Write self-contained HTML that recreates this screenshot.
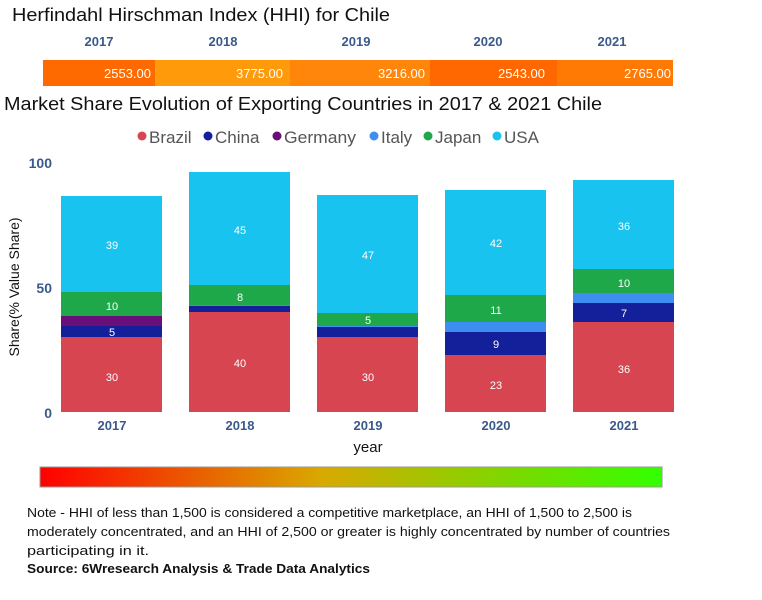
<!DOCTYPE html>
<html><head><meta charset="utf-8"><style>
html,body{margin:0;padding:0;background:#fff}
svg{display:block;font-family:"Liberation Sans",sans-serif}
</style></head><body>
<svg width="762" height="600" viewBox="0 0 762 600" xmlns="http://www.w3.org/2000/svg">
<defs>
<linearGradient id="g" x1="0" x2="1" y1="0" y2="0">
<stop offset="0" stop-color="#ff0000"/><stop offset="0.45" stop-color="#d9a800"/><stop offset="1" stop-color="#33ff00"/>
</linearGradient>
</defs>
<text x="12" y="21" font-size="18" fill="#111" textLength="378" lengthAdjust="spacingAndGlyphs">Herfindahl Hirschman Index (HHI) for Chile</text>
<g font-size="13" font-weight="bold" fill="#3a5a8c" text-anchor="middle">
<text x="99" y="46">2017</text><text x="223" y="46">2018</text><text x="356" y="46">2019</text><text x="488" y="46">2020</text><text x="612" y="46">2021</text>
</g>
<rect x="43" y="60" width="112" height="26" fill="#ff6a00"/>
<rect x="155" y="60" width="135" height="26" fill="#ff9a0a"/>
<rect x="290" y="60" width="140" height="26" fill="#ff860a"/>
<rect x="430" y="60" width="127" height="26" fill="#ff6800"/>
<rect x="557" y="60" width="116" height="26" fill="#ff7a05"/>
<g font-size="13" fill="#fff" text-anchor="end">
<text x="151" y="78">2553.00</text><text x="283" y="78">3775.00</text><text x="425" y="78">3216.00</text><text x="545" y="78">2543.00</text><text x="671" y="78">2765.00</text>
</g>
<text x="4" y="110" font-size="18" fill="#111" textLength="598" lengthAdjust="spacingAndGlyphs">Market Share Evolution of Exporting Countries in 2017 &amp; 2021 Chile</text>
<g font-size="17" fill="#555">
<circle cx="142" cy="136" r="4.5" fill="#d64550"/><text x="149" y="143">Brazil</text>
<circle cx="208" cy="136" r="4.5" fill="#13209a"/><text x="215" y="143">China</text>
<circle cx="277" cy="136" r="4.5" fill="#6a0f7a"/><text x="284" y="143" textLength="72" lengthAdjust="spacingAndGlyphs">Germany</text>
<circle cx="374" cy="136" r="4.5" fill="#3d8ef0"/><text x="381" y="143">Italy</text>
<circle cx="428" cy="136" r="4.5" fill="#1fa84a"/><text x="435" y="143">Japan</text>
<circle cx="497" cy="136" r="4.5" fill="#19c3f0"/><text x="504" y="143">USA</text>
</g>
<g font-size="14" font-weight="bold" fill="#3a5a8c" text-anchor="end">
<text x="52" y="168">100</text><text x="52" y="293">50</text><text x="52" y="418">0</text>
</g>
<text transform="translate(19,287) rotate(-90)" font-size="14" fill="#111" text-anchor="middle">Share(% Value Share)</text>
<rect x="61" y="196" width="101" height="96" fill="#19c3f0"/>
<rect x="61" y="292" width="101" height="24" fill="#1fa84a"/>
<rect x="61" y="316" width="101" height="10" fill="#6a0f7a"/>
<rect x="61" y="326" width="101" height="11" fill="#13209a"/>
<rect x="61" y="337" width="101" height="75" fill="#d64550"/>
<rect x="189" y="172" width="101" height="113" fill="#19c3f0"/>
<rect x="189" y="285" width="101" height="20" fill="#1fa84a"/>
<rect x="189" y="305" width="101" height="1" fill="#3d8ef0"/>
<rect x="189" y="306" width="101" height="6" fill="#13209a"/>
<rect x="189" y="312" width="101" height="100" fill="#d64550"/>
<rect x="317" y="195" width="101" height="118" fill="#19c3f0"/>
<rect x="317" y="313" width="101" height="13" fill="#1fa84a"/>
<rect x="317" y="326" width="101" height="1" fill="#3d8ef0"/>
<rect x="317" y="327" width="101" height="10" fill="#13209a"/>
<rect x="317" y="337" width="101" height="75" fill="#d64550"/>
<rect x="445" y="190" width="101" height="105" fill="#19c3f0"/>
<rect x="445" y="295" width="101" height="27" fill="#1fa84a"/>
<rect x="445" y="322" width="101" height="10" fill="#3d8ef0"/>
<rect x="445" y="332" width="101" height="23" fill="#13209a"/>
<rect x="445" y="355" width="101" height="57" fill="#d64550"/>
<rect x="573" y="180" width="101" height="89" fill="#19c3f0"/>
<rect x="573" y="269" width="101" height="24" fill="#1fa84a"/>
<rect x="573" y="293" width="101" height="10" fill="#3d8ef0"/>
<rect x="573" y="303" width="101" height="19" fill="#13209a"/>
<rect x="573" y="322" width="101" height="90" fill="#d64550"/>
<g font-size="11" fill="#fff" text-anchor="middle">
<text x="112" y="249">39</text><text x="112" y="310">10</text><text x="112" y="336">5</text><text x="112" y="381">30</text>
<text x="240" y="234">45</text><text x="240" y="301">8</text><text x="240" y="367">40</text>
<text x="368" y="259">47</text><text x="368" y="324">5</text><text x="368" y="381">30</text>
<text x="496" y="247">42</text><text x="496" y="314">11</text><text x="496" y="348">9</text><text x="496" y="389">23</text>
<text x="624" y="230">36</text><text x="624" y="287">10</text><text x="624" y="317">7</text><text x="624" y="373">36</text>
</g>
<g font-size="13" font-weight="bold" fill="#3a5a8c" text-anchor="middle">
<text x="112" y="430">2017</text><text x="240" y="430">2018</text><text x="368" y="430">2019</text><text x="496" y="430">2020</text><text x="624" y="430">2021</text>
</g>
<text x="368" y="452" font-size="15" fill="#111" text-anchor="middle">year</text>
<rect x="40" y="467" width="622" height="20" fill="url(#g)" stroke="#999" stroke-width="1"/>
<g font-size="13" fill="#111">
<text x="27" y="517" textLength="605" lengthAdjust="spacingAndGlyphs">Note - HHI of less than 1,500 is considered a competitive marketplace, an HHI of 1,500 to 2,500 is</text>
<text x="27" y="536" textLength="643" lengthAdjust="spacingAndGlyphs">moderately concentrated, and an HHI of 2,500 or greater is highly concentrated by number of countries</text>
<text x="27" y="555" textLength="122" lengthAdjust="spacingAndGlyphs">participating in it.</text>
<text x="27" y="573" font-weight="bold" textLength="343" lengthAdjust="spacingAndGlyphs">Source: 6Wresearch Analysis &amp; Trade Data Analytics</text>
</g>
</svg>
</body></html>
